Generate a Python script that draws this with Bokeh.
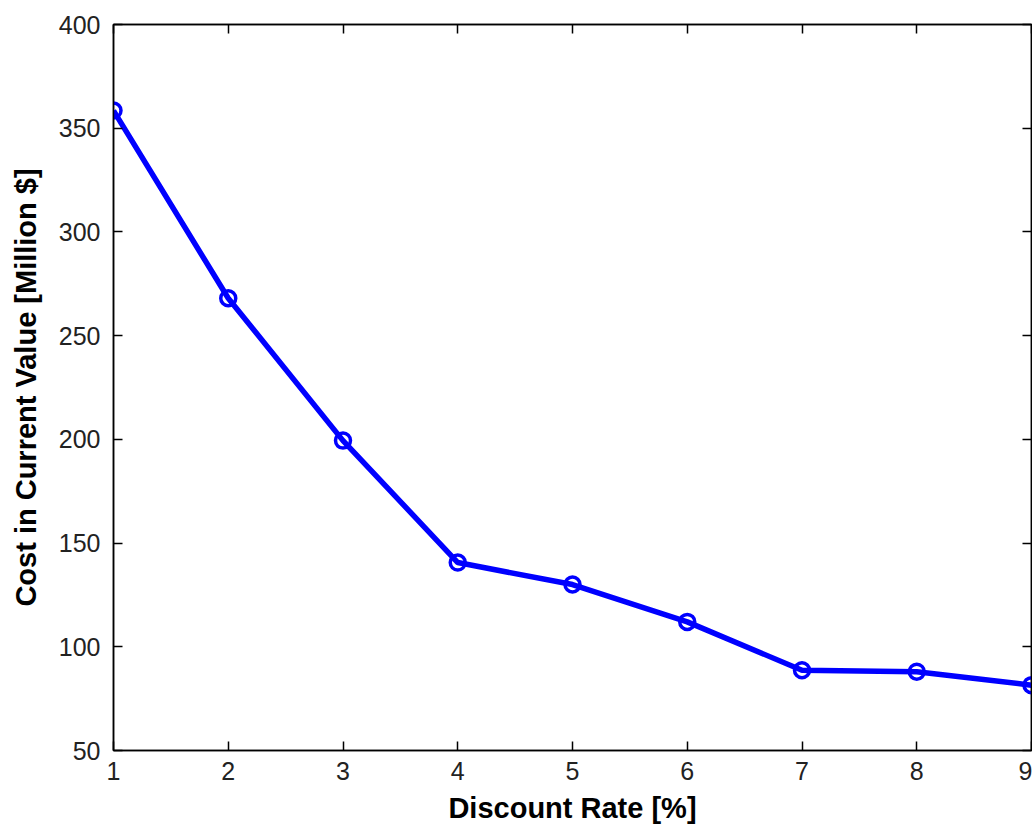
from bokeh.plotting import figure
from bokeh.models import LinearAxis, FixedTicker, Range1d
from bokeh.embed import file_html
from bokeh.resources import INLINE

rates = [1, 2, 3, 4, 5, 6, 7, 8, 9]
costs = [358.5, 268.0, 199.4, 140.6, 130.0, 112.0, 88.7, 88.0, 81.5]
x_ticks = [1, 2, 3, 4, 5, 6, 7, 8, 9]
y_ticks = [50, 100, 150, 200, 250, 300, 350, 400]

FONT = "Liberation Sans"

p = figure(
    width=1032, height=824,
    frame_width=918, frame_height=726,
    min_border_left=113, min_border_right=1, min_border_top=24, min_border_bottom=74,
    x_range=Range1d(1, 9), y_range=Range1d(50, 400),
    output_backend="svg", toolbar_location=None,
    background_fill_color="white", border_fill_color="white",
)
p.grid.visible = False
p.outline_line_color = "black"
p.outline_line_width = 1.5

p.line(rates, costs, line_color="#0000ff", line_width=5.5)
p.scatter(rates, costs, marker="circle", size=15, fill_color=None,
          line_color="#0000ff", line_width=3.5)

for ax in (p.xaxis[0], p.yaxis[0]):
    ax.major_tick_in = 9
    ax.major_tick_out = 0
    ax.minor_tick_in = 0
    ax.minor_tick_out = 0
    ax.axis_line_color = "black"
    ax.axis_line_width = 1.5
    ax.major_tick_line_width = 1.5
    ax.major_label_text_font = FONT
    ax.major_label_text_font_size = "25px"
    ax.major_label_text_color = "#222222"
    ax.axis_label_text_font = FONT
    ax.axis_label_text_font_size = "29px"
    ax.axis_label_text_font_style = "bold"
    ax.axis_label_text_color = "black"

p.xaxis[0].ticker = FixedTicker(ticks=x_ticks)
p.yaxis[0].ticker = FixedTicker(ticks=y_ticks)
p.xaxis[0].axis_label = "Discount Rate [%]"
p.yaxis[0].axis_label = "Cost in Current Value [Million $]"
p.xaxis[0].major_label_standoff = 11
p.yaxis[0].major_label_standoff = 13
p.xaxis[0].axis_label_standoff = 9
p.yaxis[0].axis_label_standoff = 14

top = LinearAxis(ticker=FixedTicker(ticks=x_ticks), major_label_text_font_size="0px",
                 major_tick_in=9, major_tick_out=0, minor_tick_in=0, minor_tick_out=0,
                 axis_line_width=1.5, major_tick_line_width=1.5)
top.major_label_text_alpha = 0
right = LinearAxis(ticker=FixedTicker(ticks=y_ticks), major_label_text_font_size="0px",
                   major_tick_in=9, major_tick_out=0, minor_tick_in=0, minor_tick_out=0,
                   axis_line_width=1.5, major_tick_line_width=1.5)
right.major_label_text_alpha = 0
p.add_layout(top, "above")
p.add_layout(right, "right")

open("out.html", "w").write(file_html(p, INLINE))
